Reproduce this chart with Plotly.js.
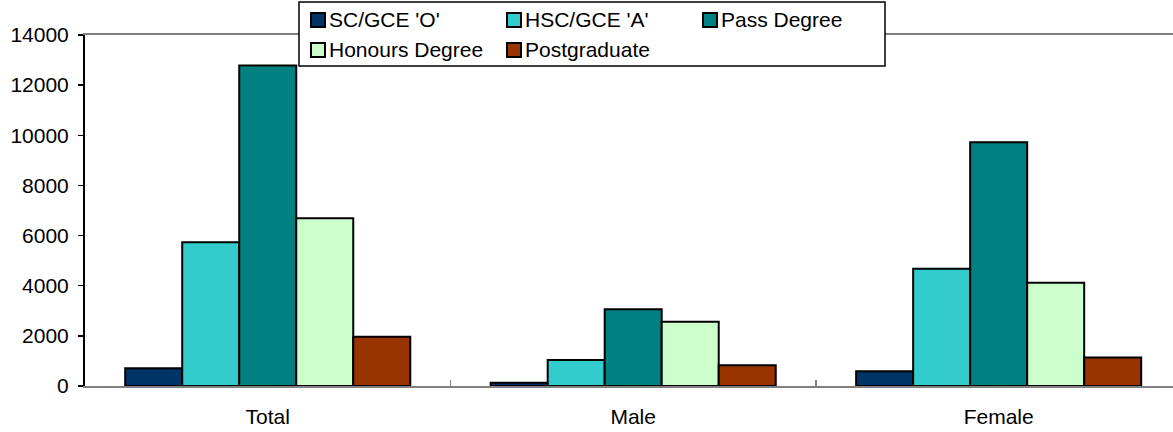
<!DOCTYPE html>
<html>
<head>
<meta charset="utf-8">
<script src="https://cdn.plot.ly/plotly-3.0.1.min.js"></script>
<style>html,body{margin:0;padding:0;background:#fff;}#chart{width:1173px;height:432px;}</style>
</head>
<body>
<div id="chart"></div>
<script>
const categories = ['Total', 'Male', 'Female'];
const seriesNames = ["SC/GCE 'O'", "HSC/GCE 'A'", 'Pass Degree', 'Honours Degree', 'Postgraduate'];
const scGceO = [706, 130, 590];
const hscGceA = [5730, 1037, 4680];
const passDegree = [12780, 3060, 9720];
const honoursDegree = [6690, 2565, 4120];
const postgraduate = [1967, 825, 1140];
const seriesColors = ['#003366', '#33CCCC', '#008080', '#CCFFCC', '#993300'];
const yTickValues = [0, 2000, 4000, 6000, 8000, 10000, 12000, 14000];
const yTickLabels = ['0', '2000', '4000', '6000', '8000', '10000', '12000', '14000'];

const seriesValues = [scGceO, hscGceA, passDegree, honoursDegree, postgraduate];
const FONT = 'Liberation Sans, Arial, sans-serif';
const FS = 21;

const traces = seriesValues.map((vals, i) => ({
  type: 'bar',
  name: seriesNames[i],
  x: categories,
  y: vals,
  marker: {color: seriesColors[i], line: {color: '#000000', width: 2}},
  showlegend: false,
  hoverinfo: 'x+y+name'
}));

// plot area geometry (pixels)
const W = 1173, H = 432, ML = 85, MT = 35, MB = 46;
const PW = W - ML, PH = H - MT - MB;
const px2x = p => (p - ML) / PW;
const py2y = p => (H - MB - p) / PH;

// custom legend (box + swatches + labels), laid out like the original
const legendBox = {x0: 299, x1: 885, y0: 2, y1: 66};
const colLeft = [310, 506, 702];
const rowMid = [20, 50];
const SW = 14;
const shapes = [{
  type: 'rect', xref: 'paper', yref: 'paper', layer: 'above',
  x0: px2x(legendBox.x0), x1: px2x(legendBox.x1), y0: py2y(legendBox.y1), y1: py2y(legendBox.y0),
  fillcolor: '#ffffff', line: {color: '#000000', width: 1.5}
}];
const annotations = [];
seriesNames.forEach((nm, i) => {
  const col = i % 3, row = Math.floor(i / 3);
  const sx = colLeft[col], sy = rowMid[row];
  shapes.push({
    type: 'rect', xref: 'paper', yref: 'paper', layer: 'above',
    x0: px2x(sx + 1), x1: px2x(sx + 1 + SW), y0: py2y(sy + SW / 2), y1: py2y(sy - SW / 2),
    fillcolor: seriesColors[i], line: {color: '#000000', width: 2}
  });
  annotations.push({
    xref: 'paper', yref: 'paper', x: px2x(sx + 17), y: py2y(sy),
    xanchor: 'left', yanchor: 'middle', showarrow: false,
    text: nm, font: {family: FONT, size: FS, color: '#000000'}
  });
});

const layout = {
  width: W, height: H,
  margin: {l: ML, r: 0, t: MT, b: MB, pad: 0},
  paper_bgcolor: '#ffffff', plot_bgcolor: '#ffffff',
  barmode: 'group', bargap: 0.22, bargroupgap: 0,
  showlegend: false,
  font: {family: FONT, size: FS, color: '#000000'},
  xaxis: {
    type: 'category', range: [-0.5, 2.477], fixedrange: true,
    showline: true, mirror: true, linecolor: '#808080', linewidth: 2,
    ticks: 'inside', tickson: 'boundaries', ticklen: 6, tickcolor: '#808080', tickwidth: 1.5,
    showgrid: false, zeroline: false,
    tickfont: {family: FONT, size: FS, color: '#000000'},
    ticklabelstandoff: 11
  },
  yaxis: {
    range: [0, 14000], tickvals: yTickValues, ticktext: yTickLabels, fixedrange: true,
    showline: true, linecolor: '#000000', linewidth: 2,
    ticks: 'outside', ticklen: 5, tickcolor: '#000000', tickwidth: 1.5,
    showgrid: false, zeroline: false,
    tickfont: {family: FONT, size: FS, color: '#000000'},
    ticklabelstandoff: 5
  },
  shapes: shapes,
  annotations: annotations
};

Plotly.newPlot('chart', traces, layout, {displayModeBar: false, staticPlot: true});
</script>
</body>
</html>
